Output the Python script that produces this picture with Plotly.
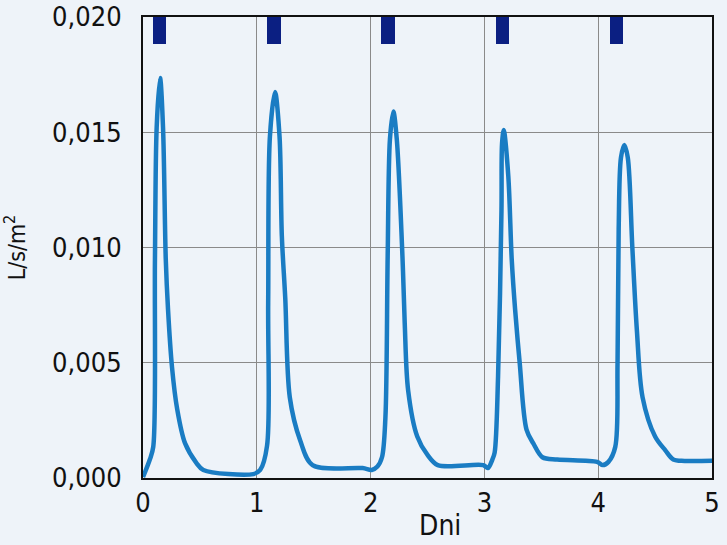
import plotly.graph_objects as go

# Flow series (days, L/s/m2)
days = [0.0, 0.06, 0.09, 0.105, 0.12, 0.15, 0.176, 0.20, 0.22, 0.255, 0.30, 0.37, 0.47, 0.53, 0.97, 1.03,
        1.09, 1.10, 1.115, 1.16, 1.20, 1.22, 1.25, 1.29, 1.38, 1.49, 1.93, 2.01, 2.06,
        2.10, 2.13, 2.15, 2.17, 2.20, 2.23, 2.28, 2.30, 2.33, 2.41, 2.50, 2.59, 2.99, 3.03, 3.07,
        3.09, 3.12, 3.15, 3.155, 3.17, 3.21, 3.24, 3.27, 3.31, 3.37, 3.43, 3.51, 3.64, 3.99, 4.04, 4.09,
        4.15, 4.17, 4.18, 4.20, 4.23, 4.26, 4.30, 4.34, 4.39, 4.50, 4.59, 4.66, 4.76, 5.05]
flow = [0.00004, 0.0008, 0.00135, 0.0095, 0.0152, 0.01735, 0.0152, 0.0095, 0.0073, 0.0048, 0.0030, 0.0015, 0.00065, 0.00035, 0.00017, 0.00035,
        0.0014, 0.0076, 0.0148, 0.01675, 0.0148, 0.0105, 0.0078, 0.0035, 0.00165, 0.00056, 0.00043, 0.00035, 0.0005,
        0.0009, 0.0026, 0.0096, 0.0147, 0.0159, 0.0147, 0.0096, 0.0067, 0.0038, 0.0018, 0.0010, 0.00056, 0.00056, 0.00043, 0.0008,
        0.0011, 0.0044, 0.0116, 0.0145, 0.0151, 0.0131, 0.0095, 0.0073, 0.0050, 0.0021, 0.0015, 0.0009, 0.0008, 0.0007, 0.00056, 0.0007,
        0.00135, 0.0050, 0.0108, 0.0139, 0.01445, 0.0139, 0.0100, 0.0064, 0.0035, 0.0018, 0.0012, 0.0008, 0.00074, 0.00075]

# Irrigation events (start day, end day)
event_start = [0.09, 1.09, 2.09, 3.10, 4.10]
event_end = [0.20, 1.21, 2.21, 3.22, 4.22]
event_low = 0.01883
event_high = 0.020

xticks = [0, 1, 2, 3, 4, 5]
yticks = [0.0, 0.005, 0.010, 0.015, 0.020]
ytick_text = ["0,000", "0,005", "0,010", "0,015", "0,020"]

FONT = "DejaVu Sans Condensed, Liberation Sans Narrow, sans-serif"
BG = "#eef3f9"

fig = go.Figure()

fig.add_trace(go.Bar(
    x=[(s + e) / 2 for s, e in zip(event_start, event_end)],
    y=[event_high - event_low] * len(event_start),
    base=[event_low] * len(event_start),
    width=[e - s for s, e in zip(event_start, event_end)],
    marker=dict(color="#0b1f82", line=dict(width=0)),
    showlegend=False, hoverinfo="skip",
))

fig.add_trace(go.Scatter(
    x=days, y=flow, mode="lines",
    line=dict(color="#1a7cc3", width=4.5, shape="spline", smoothing=0.9),
    cliponaxis=False, showlegend=False,
))

fig.update_layout(
    width=727, height=545,
    margin=dict(l=143, r=15, t=17, b=67),
    paper_bgcolor=BG, plot_bgcolor=BG,
    font=dict(family=FONT, color="#111111"),
    xaxis=dict(
        range=[0, 5], tickvals=xticks, ticktext=[str(v) for v in xticks],
        showgrid=True, gridcolor="#8a8a8a", gridwidth=1.3,
        showline=True, linecolor="#111111", linewidth=2, mirror=True,
        ticks="", tickfont=dict(size=27, family=FONT), ticklabelstandoff=0,
        ticklabeloverflow="allow", automargin=False,
        zeroline=False,
    ),
    yaxis=dict(
        range=[0, 0.020], tickvals=yticks, ticktext=ytick_text,
        showgrid=True, gridcolor="#8a8a8a", gridwidth=1.3,
        showline=True, linecolor="#111111", linewidth=2, mirror=True,
        ticks="", tickfont=dict(size=27, family=FONT), ticklabelstandoff=14,
        ticklabeloverflow="allow", automargin=False,
        zeroline=False,
        title=dict(text="L/s/m<sup>2</sup>", font=dict(size=23, family=FONT), standoff=21),
    ),
    bargap=0,
)

fig.add_annotation(
    text="Dni", x=2.61, xref="x", y=-0.102, yref="paper",
    xanchor="center", yanchor="middle", showarrow=False,
    font=dict(size=28, family=FONT, color="#111111"),
)

fig.write_html("out.html")
